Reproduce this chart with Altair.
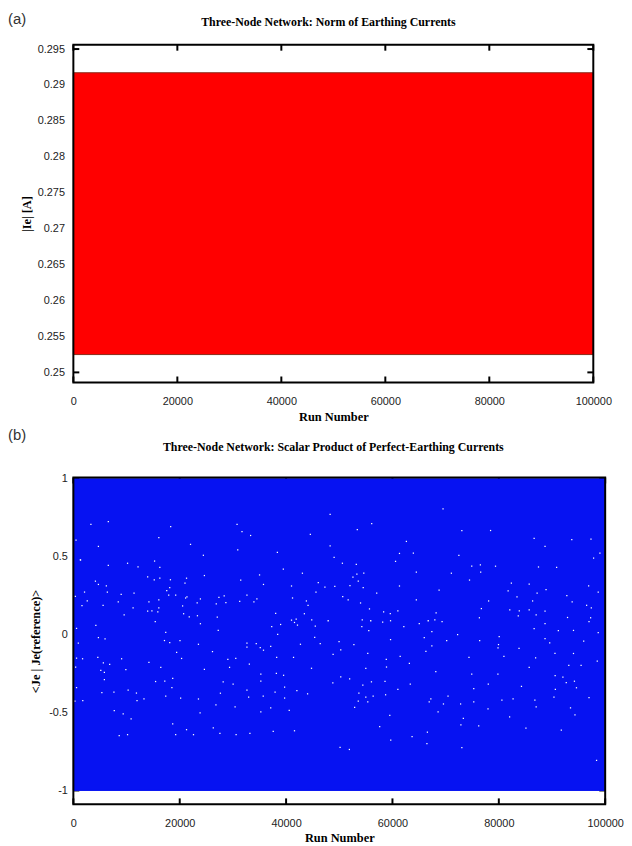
import altair as alt
import pandas as pd

# ---------------- data ----------------
x_ticks = [0, 20000, 40000, 60000, 80000, 100000]
ya_ticks = [0.25, 0.255, 0.26, 0.265, 0.27, 0.275, 0.28, 0.285, 0.29, 0.295]
yb_ticks = [-1, -0.5, 0, 0.5, 1]

# panel (a): |Ie| of every run fills a dense band
a_run_start = [0]
a_run_end = [100000]
a_low = [0.25248]
a_high = [0.2917]

# panel (b): scalar products fill [-1, 1]; a few runs leave white gaps
b_run_start = [0]
b_run_end = [100000]
b_low = [-1.0]
b_high = [1.0]

run_b = [
    500, 1300, 370, 600, 930, 600, 430, 600, 300,
    3300, 6570, 18300, 16070, 4710, 22030, 24450, 30780, 31710, 33330,
    30910, 38360, 44560, 48280, 48280, 49030, 1360, 6570, 10190, 12160,
    15270, 16260, 39480, 43070, 50590, 13970, 15210, 16260, 18250, 21280,
    24640, 31470, 35010, 4150, 4710, 6200, 20990, 35750, 41020, 46050,
    47300, 49160, 2100, 6390, 8990, 11410, 17560, 18120, 17930, 19240,
    21360, 23890, 27370, 28360, 32640, 34510, 41210, 45620, 50650, 2610,
    1620, 5590, 8440, 11230, 14210, 16070, 16070, 20540, 21100, 23280,
    26870, 28680, 31280, 33950, 43820, 44130, 13970, 14770, 15880, 9550,
    20730, 21790, 23330, 27060, 38040, 43440, 4230, 15400, 23890, 37300,
    38970, 41020, 41900, 41580, 42140, 45490, 47910, 44820, 27240, 17370,
    38420, 45380, 4710, 5960, 17130, 18120, 20050, 23520, 32640, 34390,
    37110, 35140, 42700, 46420, 49960,
    69510, 56100, 53390, 73050, 78450, 86640, 88690, 93720, 97330, 62620,
    61320, 63930, 72490, 99010, 97820, 60580, 53200, 74910, 76530, 79380,
    87460, 90870, 64490, 71080, 76590, 52570, 53310, 54610, 53570, 74490,
    52010, 54500, 61320, 68770, 82360, 85710, 81750, 88880, 87200, 96890,
    98690, 57040, 83420, 92790, 51670, 54000, 64490, 78080, 86350, 93790,
    55680, 76720, 82060, 83850, 85710, 88690, 96510, 97390, 58340, 61020,
    59590, 68210, 87020, 83660, 92920, 97260, 54320, 55920, 58160, 59640,
    66720, 67970, 69330, 76350, 96960, 54240, 62140, 65040, 86640, 88690,
    91190, 94040, 55550, 67410, 80070, 65980, 72250, 98690, 59640, 70200,
    76400, 88690, 95960, 52750, 67410, 79940, 89570,
    32640, 35750, 50280, 1730, 4600, 9070, 5640, 6830, 5160, 5830,
    9870, 14210, 16440, 19420, 20350, 26160, 29050, 24640, 29370, 30540,
    33090, 38230, 41400, 44780, 48840, 35250, 38170, 39530, 5830, 15460,
    17190, 18680, 18530, 28170, 30040, 35250, 50280, 48790, 5360, 7630,
    10300, 11860, 11970, 13280, 17370, 20170, 23520, 27650, 26810, 32640,
    32960, 35700, 37930, 39720, 39720, 42030, 44040, 1770, 7690, 9370,
    10860, 18680, 23830, 30410, 35250, 37110, 40590, 8620, 10190, 19240,
    21280, 22590, 26310, 27560, 30600, 33200, 37580, 41580, 50150,
    66290, 79850, 80960, 83800, 86920, 90560, 94040, 98510, 55360, 58840,
    61450, 63180, 58880, 54990, 68150, 74390, 74910, 79830, 85710, 90590,
    92050, 93160, 95470, 94220, 92680, 51950, 56050, 58600, 63350, 61020,
    54430, 53690, 54990, 56370, 58710, 53570, 55360, 52890, 70450, 67220,
    66910, 69590, 68580, 72810, 75290, 78020, 75290, 77970, 80580, 82680,
    84260, 86780, 87020, 90370, 90630, 94600, 96960, 93480, 94320, 59500,
    73330, 72870, 76220, 57600, 82030, 85100, 91750, 66570, 63690, 59680,
    66480, 73050, 51900, 98380,
]
val_b = [
    0.606, 0.48, 0.245, 0.04, -0.055, -0.151, -0.208, -0.34, -0.426,
    0.708, 0.725, 0.693, 0.623, 0.566, 0.579, 0.509, 0.708, 0.661, 0.636,
    0.544, 0.528, 0.644, 0.771, 0.570, 0.496, 0.479, 0.445, 0.458, 0.434,
    0.472, 0.432, 0.421, 0.394, 0.458, 0.371, 0.352, 0.362, 0.352, 0.362,
    0.379, 0.350, 0.383, 0.343, 0.322, 0.312, 0.331, 0.322, 0.312, 0.334,
    0.305, 0.309, 0.273, 0.273, 0.258, 0.267, 0.282, 0.301, 0.254, 0.254,
    0.242, 0.229, 0.239, 0.248, 0.254, 0.229, 0.235, 0.273, 0.243, 0.216,
    0.186, 0.188, 0.210, 0.172, 0.210, 0.223, 0.172, 0.184, 0.235, 0.203,
    0.197, 0.205, 0.214, 0.210, 0.216, 0.188, 0.150, 0.153, 0.146, 0.127,
    0.134, 0.114, 0.121, 0.112, 0.137, 0.134, 0.059, 0.083, 0.070, 0.051,
    0.065, 0.093, 0.099, 0.078, 0.061, 0.055, 0.089, 0.095, 0.027, 0.015,
    0.002, -0.017, -0.019, -0.028, -0.038, -0.051, -0.038, -0.062, -0.055, -0.057,
    -0.076, -0.083, -0.062, -0.057, -0.045,
    0.807, 0.712, 0.674, 0.668, 0.668, 0.617, 0.566, 0.610, 0.612, 0.598,
    0.521, 0.523, 0.509, 0.523, 0.491, 0.470, 0.451, 0.439, 0.447, 0.439,
    0.434, 0.432, 0.401, 0.394, 0.401, 0.369, 0.388, 0.394, 0.343, 0.350,
    0.315, 0.301, 0.312, 0.286, 0.331, 0.324, 0.280, 0.288, 0.267, 0.312,
    0.273, 0.267, 0.242, 0.250, 0.223, 0.203, 0.223, 0.216, 0.216, 0.210,
    0.165, 0.167, 0.159, 0.153, 0.159, 0.150, 0.188, 0.172, 0.146, 0.153,
    0.134, 0.140, 0.127, 0.121, 0.110, 0.108, 0.095, 0.089, 0.080, 0.089,
    0.089, 0.095, 0.083, 0.108, 0.083, 0.051, 0.051, 0.070, 0.038, 0.070,
    0.025, 0.027, 0.025, 0.019, -0.013, -0.019, 0.0, 0.013, -0.032, -0.038,
    -0.038, -0.025, -0.041, -0.064, -0.072, -0.064, -0.053,
    -0.081, -0.100, -0.098, -0.155, -0.146, -0.155, -0.182, -0.191, -0.229, -0.242,
    -0.225, -0.178, -0.210, -0.114, -0.153, -0.109, -0.159, -0.223, -0.210, -0.153,
    -0.189, -0.146, -0.146, -0.216, -0.127, -0.254, -0.248, -0.261, -0.289, -0.301,
    -0.299, -0.280, -0.340, -0.303, -0.318, -0.299, -0.271, -0.310, -0.372, -0.369,
    -0.356, -0.375, -0.424, -0.413, -0.394, -0.407, -0.413, -0.376, -0.451, -0.356,
    -0.401, -0.394, -0.369, -0.337, -0.407, -0.360, -0.380, -0.424, -0.488, -0.509,
    -0.540, -0.572, -0.502, -0.464, -0.496, -0.470, -0.486, -0.648, -0.642, -0.642,
    -0.610, -0.642, -0.598, -0.634, -0.642, -0.634, -0.621, -0.617, -0.723,
    -0.108, -0.085, -0.140, -0.089, -0.149, -0.121, -0.121, -0.170, -0.121, -0.159,
    -0.140, -0.184, -0.208, -0.216, -0.238, -0.146, -0.254, -0.254, -0.210, -0.263,
    -0.273, -0.197, -0.197, -0.299, -0.308, -0.284, -0.303, -0.300, -0.318, -0.352,
    -0.324, -0.375, -0.401, -0.394, -0.386, -0.426, -0.432, -0.467, -0.394, -0.413,
    -0.432, -0.445, -0.496, -0.445, -0.346, -0.318, -0.432, -0.477, -0.420, -0.413,
    -0.332, -0.420, -0.464, -0.401, -0.352, -0.341, -0.405, -0.470, -0.515, -0.518,
    -0.537, -0.579, -0.585, -0.591, -0.528, -0.600, -0.613, -0.626, -0.655, -0.677,
    -0.699, -0.725, -0.737, -0.807,
]
assert len(run_b) == len(val_b)

title_a = "Three-Node Network: Norm of Earthing Currents"
title_b = "Three-Node Network: Scalar Product of Perfect-Earthing Currents"

# ---------------- styling ----------------
W_A, H_A = 525, 341
W_B, H_B = 537, 330
TICK = 6
SANS = "Liberation Sans"
SERIF = "Liberation Serif"
RED = "#ff0000"
BLUE = "#0612f2"


def x_axis(pad):
    return alt.Axis(values=x_ticks, format="d", ticks=False, domain=False, grid=False,
                    labelPadding=pad, labelFont=SANS, labelFontSize=11, labelColor="#222",
                    labelOverlap=False, labelFlush=False,
                    title="Run Number", titleFont=SERIF, titleFontSize=12.5,
                    titleFontWeight="bold", titlePadding=4, titleColor="black")


def y_axis(values, fmt, title, pad, tpad):
    return alt.Axis(values=values, format=fmt, ticks=False, domain=False, grid=False,
                    labelPadding=pad, labelFont=SANS, labelFontSize=11, labelColor="#222",
                    labelOverlap=False, labelFlush=False,
                    labelExpr="replace(datum.label, '\u2212', '-')",
                    title=title, titleFont=SERIF, titleFontSize=12.5,
                    titleFontWeight="bold", titlePadding=tpad, titleColor="black")


def panel(W, H, xs, ys, xax, yax, yticks, band_df, band_color, band_stroke,
          title, title_dx, title_y, label, label_y, extra=None):
    X = alt.X("run:Q", scale=xs, axis=xax)
    Y = alt.Y("val:Q", scale=ys, axis=yax)
    xt = pd.DataFrame({"run": x_ticks})
    yt = pd.DataFrame({"val": yticks})
    one = pd.DataFrame({"k": [0]})
    tick = dict(color="black", strokeWidth=2)
    layers = [
        alt.Chart(xt).mark_rule(**tick).encode(x=X, y=alt.value(H), y2=alt.value(H - TICK)),
        alt.Chart(xt).mark_rule(**tick).encode(x=X, y=alt.value(0), y2=alt.value(TICK)),
        alt.Chart(yt).mark_rule(**tick).encode(y=Y, x=alt.value(0), x2=alt.value(TICK)),
        alt.Chart(yt).mark_rule(**tick).encode(y=Y, x=alt.value(W - TICK), x2=alt.value(W)),
        alt.Chart(band_df).mark_rect(color=band_color, stroke=band_stroke, strokeWidth=1)
        .encode(x=X, x2="run2:Q", y=Y, y2="val2:Q"),
    ]
    if extra is not None:
        layers.append(extra(X, Y))
    layers += [
        alt.Chart(one).mark_rect(fill=None, stroke="black", strokeWidth=2)
        .encode(x=alt.value(0), x2=alt.value(W), y=alt.value(0), y2=alt.value(H)),
        alt.Chart(one).mark_text(align="left", baseline="top", font=SANS, fontSize=15,
                                 color="#333")
        .encode(x=alt.value(-66), y=alt.value(label_y), text=alt.value(label)),
        alt.Chart(one).mark_text(align="center", baseline="bottom", font=SERIF, fontSize=12,
                                 fontWeight="bold", color="black")
        .encode(x=alt.value(W / 2 + title_dx), y=alt.value(title_y), text=alt.value(title)),
    ]
    return alt.layer(*layers).properties(width=W, height=H)


band_a = pd.DataFrame({"run": a_run_start, "run2": a_run_end, "val": a_low, "val2": a_high})
band_b = pd.DataFrame({"run": b_run_start, "run2": b_run_end, "val": b_low, "val2": b_high})
pts_b = pd.DataFrame({"run": run_b, "val": val_b})

xs = alt.Scale(domain=[0, 100000], nice=False, zero=False)
ys_a = alt.Scale(domain=[0.2486, 0.2956], nice=False, zero=False)
ys_b = alt.Scale(domain=[-1.089, 1.008], nice=False, zero=False)

top = panel(W_A, H_A, xs, ys_a, x_axis(13),
            y_axis(ya_ticks, ".3~f", "|Ie| [A]", 9, 4), ya_ticks,
            band_a, RED, "#8a2a18",
            title_a, -5, -16, "(a)", -33)


def white_dots(X, Y):
    return alt.Chart(pts_b).mark_square(color="white", size=1.6, opacity=1).encode(x=X, y=Y)


bottom = panel(W_B, H_B, xs, ys_b, x_axis(13),
               y_axis(yb_ticks, "~g", "<Je | Je(reference)>", 6, 6), yb_ticks,
               band_b, BLUE, BLUE,
               title_b, -6, -24, "(b)", -50,
               extra=white_dots)

chart = alt.vconcat(top, bottom, spacing=96, bounds="flush").properties(
    padding=0, background="white"
).configure_view(stroke=None)

chart.save("out.html", embed_options={"renderer": "svg", "actions": False})
